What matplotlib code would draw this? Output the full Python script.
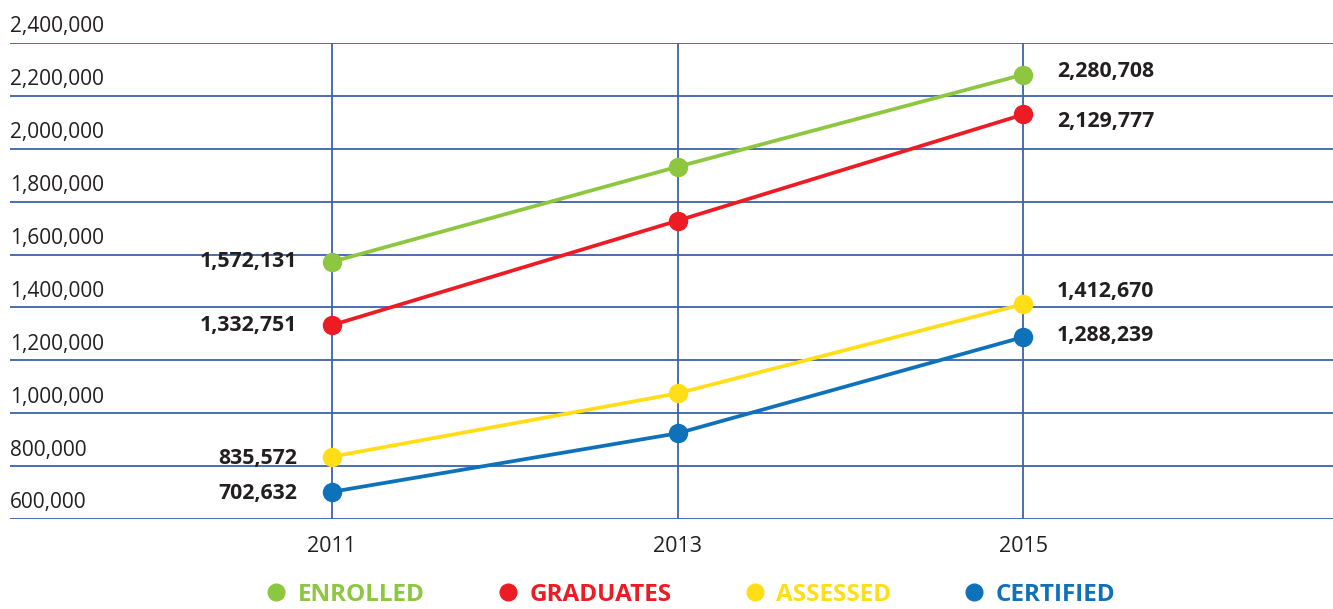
import matplotlib.pyplot as plt
from matplotlib.lines import Line2D

plt.rcParams["font.family"] = ["Open Sans", "DejaVu Sans"]

# --- Data ---
years = [2011, 2013, 2015]
enrolled = [1572131, 1932000, 2280708]
graduates = [1332751, 1728000, 2129777]
assessed = [835572, 1075000, 1412670]
certified = [702632, 924000, 1288239]

series_names = ["ENROLLED", "GRADUATES", "ASSESSED", "CERTIFIED"]
series_values = [enrolled, graduates, assessed, certified]
colors = ["#8dc63f", "#ed1c24", "#ffde17", "#1071bb"]

y_ticks = list(range(600000, 2400001, 200000))
grid_color = "#3b63a9"
text_color = "#231f20"

# label offsets in points (dx, dy) for the first / last point
left_offsets = [(-25, 0), (-25, 0), (-25, -1), (-25, -1)]
right_offsets = [(24, 2), (24, -5), (24, 9), (24, 1)]

fig = plt.figure(figsize=(13.33, 6.09), dpi=100)
ax = fig.add_axes([10 / 1333, 90 / 609, 1323 / 1333, 476 / 609])
ax.set_xlim(2009.14, 2016.79)
ax.set_ylim(600000, 2400000)

# horizontal grid + y labels sitting above each line
for v in y_ticks:
    ax.axhline(v, color=grid_color, lw=1.3, zorder=1)
    ax.annotate(f"{v:,}", (0, v), xycoords=("axes fraction", "data"),
                xytext=(0, 4), textcoords="offset points",
                ha="left", va="bottom", fontsize=15, color=text_color)

# vertical lines at each year
for yr in years:
    ax.axvline(yr, color=grid_color, lw=1.3, zorder=1)

for name, vals, c, lo, ro in zip(series_names, series_values, colors,
                                 left_offsets, right_offsets):
    ax.plot(years, vals, color=c, lw=2.7, marker="o", ms=13, zorder=3)
    ax.annotate(f"{vals[0]:,}", (years[0], vals[0]), xytext=lo,
                textcoords="offset points", ha="right", va="center",
                fontsize=15.3, fontweight="bold", color=text_color)
    ax.annotate(f"{vals[-1]:,}", (years[-1], vals[-1]), xytext=ro,
                textcoords="offset points", ha="left", va="center",
                fontsize=15.3, fontweight="bold", color=text_color)

ax.set_xticks(years)
ax.set_xticklabels([str(y) for y in years], fontsize=15.5, color=text_color)
ax.tick_params(axis="x", length=0, pad=12)
ax.set_yticks([])
for s in ax.spines.values():
    s.set_visible(False)

handles = [Line2D([], [], ls="none", marker="o", ms=12, color=c) for c in colors]
leg = fig.legend(handles, series_names, loc="center", ncol=4,
                 bbox_to_anchor=(690 / 1333, 14 / 609), frameon=False,
                 handletextpad=0.4, columnspacing=2.9, handlelength=1.0,
                 prop={"size": 17.5, "weight": "bold"})
for t, c in zip(leg.get_texts(), colors):
    t.set_color(c)

plt.savefig("out.png", dpi=100)
